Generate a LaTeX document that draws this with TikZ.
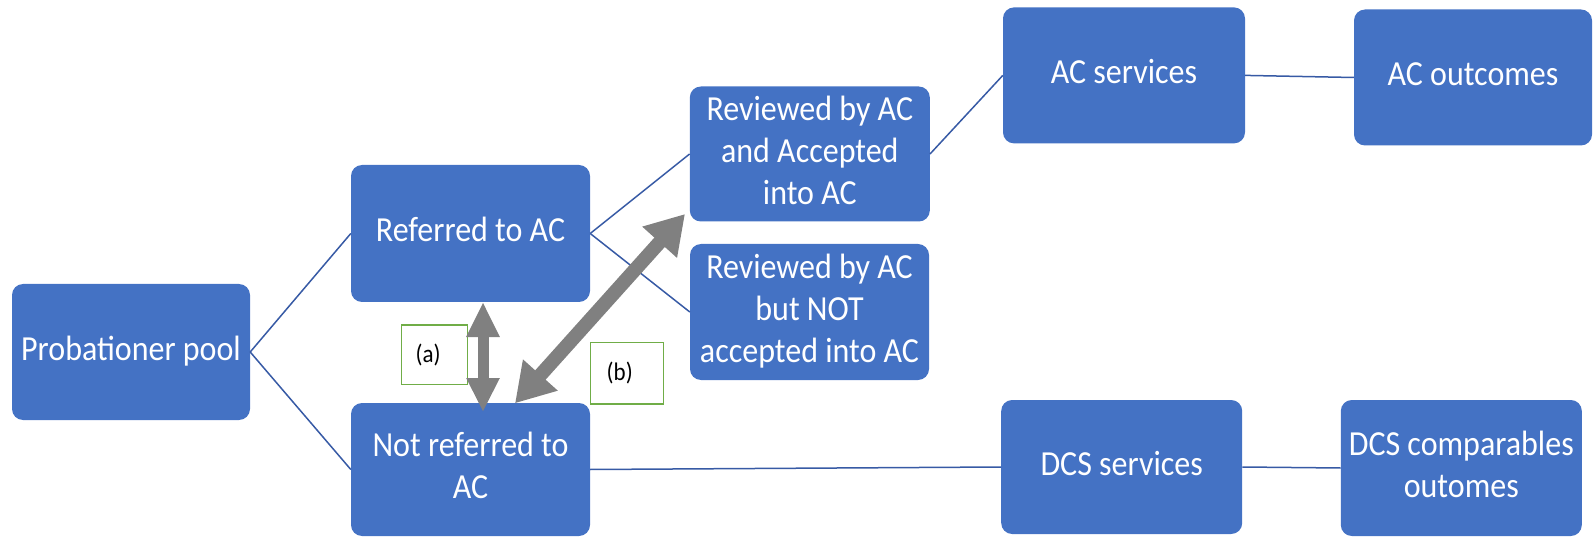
\documentclass[tikz,border=0pt]{standalone}
\usepackage{fontspec}
\setmainfont{Carlito}
\usepackage{graphicx}
\usetikzlibrary{arrows.meta}
\definecolor{boxblue}{RGB}{68,114,196}
\definecolor{lineblue}{RGB}{55,90,165}
\definecolor{arrowgray}{RGB}{128,128,128}
\definecolor{labelgreen}{RGB}{112,173,71}
\newcommand{\bxt}[1]{\scalebox{1}[1.1]{\begin{tabular}{@{}c@{}}#1\end{tabular}}}
\begin{document}
\begin{tikzpicture}[x=1pt,y=-1pt,
  stage/.style={rectangle, rounded corners=11pt, fill=boxblue, text=white, inner sep=0pt,
    font=\fontsize{32}{38}\selectfont},
  conn/.style={draw=lineblue, line width=1.5pt},
  tagbox/.style={rectangle, draw=labelgreen, line width=1.5pt, fill=white, text=black,
    inner ysep=0pt, align=left, font=\fontsize{23}{27}\selectfont},
  dblarrowa/.style={draw=arrowgray, line width=11pt,
    {Triangle[length=35pt,width=31pt]}-{Triangle[length=34pt,width=31pt]}},
  dblarrowb/.style={draw=arrowgray, line width=14pt,
    {Triangle[length=38pt,width=44pt]}-{Triangle[length=38pt,width=44pt]}}]
\useasboundingbox (0,0) rectangle (1593,537);

% stage boxes
\node[stage, minimum width=238pt, minimum height=136pt] (prob) at (131,352) {\bxt{Probationer pool}};
\node[stage, minimum width=239pt, minimum height=137pt] (ref) at (470.5,233.5) {\bxt{Referred to AC}};
\node[stage, minimum width=239pt, minimum height=133pt] (nref) at (470.5,469.5) {\bxt{Not referred to\\AC}};
\node[stage, minimum width=240pt, minimum height=135pt] (revacc) at (809.8,154) {\bxt{Reviewed by AC\\and Accepted\\into AC}};
\node[stage, minimum width=239pt, minimum height=136pt] (revnot) at (809.5,312) {\bxt{Reviewed by AC\\but NOT\\accepted into AC}};
\node[stage, minimum width=242pt, minimum height=136pt] (acs) at (1124,75.4) {\bxt{AC services}};
\node[stage, minimum width=238pt, minimum height=136pt] (aco) at (1473,77.5) {\bxt{AC outcomes}};
\node[stage, minimum width=241pt, minimum height=134pt] (dcs) at (1121.7,467) {\bxt{DCS services}};
\node[stage, minimum width=241pt, minimum height=136pt] (dcsc) at (1461.3,468) {\bxt{DCS comparables\\outomes}};

% connectors
\draw[conn] (prob.east) -- (ref.west);
\draw[conn] (prob.east) -- (nref.west);
\draw[conn] (ref.east) -- (revacc.west);
\draw[conn] (ref.east) -- (revnot.west);
\draw[conn] (revacc.east) -- (acs.west);
\draw[conn] (acs.east) -- (aco.west);
\draw[conn] (nref.east) -- (dcs.west);
\draw[conn] (dcs.east) -- (dcsc.west);

% label boxes
\node[tagbox, minimum width=65.6pt, minimum height=59.3pt, inner xsep=14pt, text width=37.6pt] (taga) at (434.5,354.7) {\scalebox{1}[1.1]{(a)}};
\node[tagbox, minimum width=72.6pt, minimum height=61.7pt, inner xsep=16pt, text width=40.6pt] (tagb) at (627,373.2) {\scalebox{1}[1.1]{(b)}};

% double arrows
\coordinate (aTop) at (483,302);
\coordinate (aBot) at (483,412);
\coordinate (bLow) at (515,403.3);
\coordinate (bHigh) at (685,214);
\draw[dblarrowa] (aTop) -- (aBot);
\draw[dblarrowb] (bLow) -- (bHigh);
\end{tikzpicture}
\end{document}
